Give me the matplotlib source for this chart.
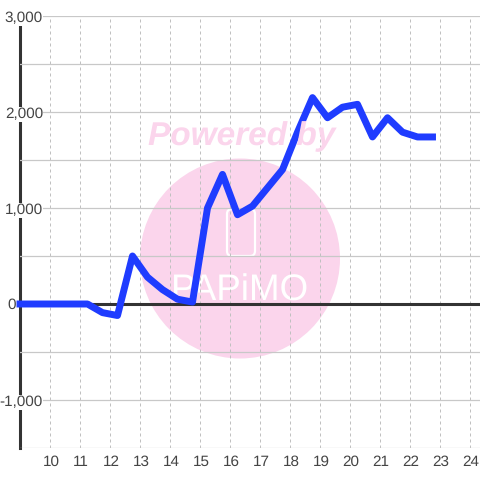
import matplotlib
matplotlib.use("Agg")
import matplotlib.pyplot as plt
from matplotlib.patches import Circle, FancyBboxPatch
from matplotlib.ticker import FuncFormatter, MultipleLocator
from matplotlib.transforms import ScaledTranslation

plt.rcParams["font.family"] = ["Liberation Sans", "DejaVu Sans"]
plt.rcParams["text.hinting"] = "none"

hours = [9, 9.75, 10.25, 10.75, 11.25, 11.75, 12.25, 12.75, 13.25, 13.75, 14.25,
         14.75, 15.25, 15.75, 16.25, 16.75, 17.25, 17.75, 18.25, 18.75, 19.25,
         19.75, 20.25, 20.75, 21.25, 21.75, 22.25, 22.75]
values = [0, 0, 0, 0, 0, -90, -120, 500, 280, 150, 50,
          20, 1000, 1350, 930, 1020, 1210, 1400, 1790, 2150, 1940,
          2050, 2080, 1740, 1940, 1790, 1740, 1740]
x_ticks = list(range(10, 25))

W = 480
PINK = "#fbd5ec"

fig = plt.figure(figsize=(4.8, 4.8), dpi=100, facecolor="white")
ax = fig.add_axes([20 / W, (W - 448) / W, 460 / W, 432 / W])
ax.set_xlim(9, 9 + 460 / 30)
ax.set_ylim(-1500, 3000)
ax.set_axisbelow(False)

# grid sits above the watermark, labels need to cover the left spine
ax.set_xticks(x_ticks)
ax.yaxis.set_major_locator(MultipleLocator(1000))
ax.yaxis.set_minor_locator(MultipleLocator(500))
# the 0 label sits further left, added by hand below
ax.yaxis.set_major_formatter(FuncFormatter(lambda v, p: f"{int(v):,}" if v != 0 else ""))
ax.grid(True, axis="y", which="both", color="#c8c8c8", lw=0.9)
ax.grid(True, axis="x", color="#c0c0c0", lw=0.72, ls=(0, (3, 3)))
ax.tick_params(axis="both", which="both", length=0, labelsize=11, labelcolor="#444444")
ax.tick_params(axis="y", pad=-16.5)
ax.tick_params(axis="x", pad=5)
down = ScaledTranslation(0, -1 / 100, fig.dpi_scale_trans)
for lab in ax.get_yticklabels():
    lab.set_bbox(dict(facecolor="white", edgecolor="none", pad=0.3))
    lab.set_transform(lab.get_transform() + down)
shift = ScaledTranslation(1 / 100, 0, fig.dpi_scale_trans)
for lab in ax.get_xticklabels():
    lab.set_transform(lab.get_transform() + shift)

for s in ["top", "right", "bottom"]:
    ax.spines[s].set_visible(False)
ax.spines["left"].set_color("#333333")
ax.spines["left"].set_linewidth(2.2)
ax.spines["left"].set_zorder(2.2)

ax.text(16 / W, 1 - 305 / W, "0", transform=fig.transFigure, fontsize=11, color="#444444",
        ha="right", va="center")

# watermark
ax.add_patch(Circle((240 / W, 1 - 258.5 / W), 100 / W, transform=fig.transFigure,
                    fc=PINK, ec="none", zorder=0.1, clip_on=False))
ax.add_patch(FancyBboxPatch((227 / W, 1 - 256 / W), 28 / W, 47 / W,
                            boxstyle=f"round,pad=0,rounding_size={5 / W}",
                            transform=fig.transFigure, fc="none", ec="white", lw=1.6, zorder=0.2))
fig.text(242 / W, 1 - 145 / W, "Powered by", color=PINK, fontsize=24, fontweight="bold",
         fontstyle="italic", ha="center", va="baseline", zorder=0)
ax.text(240 / W, 1 - 301 / W, "PAPiMO", transform=fig.transFigure, color="white", fontsize=26.5,
        ha="center", va="baseline", zorder=0.2)

ax.axhline(0, color="#333333", lw=2.2, zorder=3)
ax.plot(hours, values, color="#1f3cff", lw=5, zorder=4, clip_on=False,
        solid_capstyle="projecting", solid_joinstyle="round")

fig.savefig("out.png", dpi=100)
